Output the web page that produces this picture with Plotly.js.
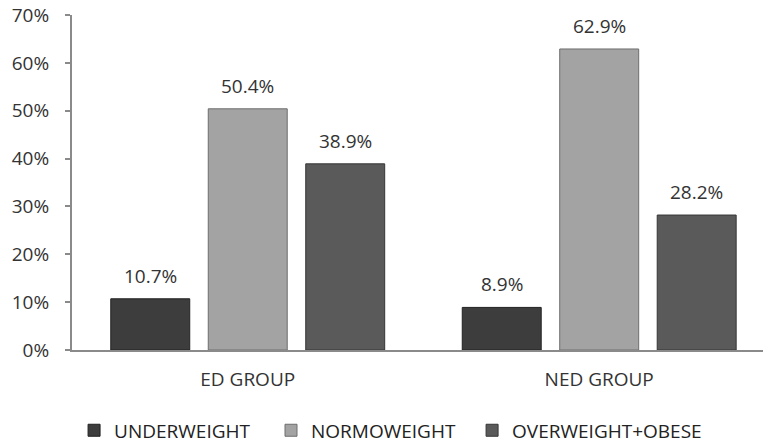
<!DOCTYPE html>
<html>
<head>
<meta charset="utf-8">
<script src="https://cdn.plot.ly/plotly-3.0.1.min.js"></script>
<style>html,body{margin:0;padding:0;background:#fff;}#chart{width:763px;height:445px;}</style>
</head>
<body>
<div id="chart"></div>
<script>
const groups = ['ED GROUP', 'NED GROUP'];
const seriesNames = ['UNDERWEIGHT', 'NORMOWEIGHT', 'OVERWEIGHT+OBESE'];
const underweight = [10.7, 8.9];
const normoweight = [50.4, 62.9];
const overweightObese = [38.9, 28.2];
const yTicks = [0, 10, 20, 30, 40, 50, 60, 70];
const yTickLabels = ['0%', '10%', '20%', '30%', '40%', '50%', '60%', '70%'];

const seriesValues = [underweight, normoweight, overweightObese];
const colors = ['#3d3d3d', '#a3a3a3', '#5a5a5a'];
const lineColors = ['#222222', '#6e6e6e', '#363636'];
const font = '"Open Sans", sans-serif';
const legendIds = ['legend', 'legend2', 'legend3'];
const legendX = [0.003, 0.288, 0.579];

const traces = seriesValues.map((vals, i) => ({
  type: 'bar',
  name: seriesNames[i],
  x: groups,
  y: vals,
  legend: legendIds[i],
  marker: {color: colors[i], line: {color: lineColors[i], width: 1}},
  hoverinfo: 'none'
}));

// value labels above each bar
const slotShift = [-97.5, 0, 97.5];
const annotations = [];
seriesValues.forEach((vals, i) => {
  vals.forEach((v, k) => {
    annotations.push({
      x: groups[k], y: v, xref: 'x', yref: 'y',
      text: v.toFixed(1) + '%',
      showarrow: false, xshift: slotShift[i], yanchor: 'bottom', yshift: 8,
      font: {family: font, size: 19, color: '#333'}
    });
  });
});

const layout = {
  width: 763, height: 445,
  margin: {l: 72, r: 0, t: 15, b: 95, autoexpand: false},
  paper_bgcolor: '#fff', plot_bgcolor: '#fff',
  barmode: 'group', bargap: 0.168, bargroupgap: 0.19,
  showlegend: true,
  xaxis: {
    type: 'category', range: [-0.5, 1.466], fixedrange: true, automargin: false,
    showline: true, linecolor: '#8a8a8a', linewidth: 2,
    ticks: '', showgrid: false, zeroline: false, ticklabelstandoff: 11,
    tickfont: {family: font, size: 19, color: '#333'}
  },
  yaxis: {
    range: [0, 70], tickvals: yTicks, ticktext: yTickLabels, automargin: false,
    showline: true, linecolor: '#8a8a8a', linewidth: 2,
    ticks: 'outside', ticklen: 5, tickwidth: 2, tickcolor: '#8a8a8a',
    showgrid: false, zeroline: false, ticklabelstandoff: 12,
    tickfont: {family: font, size: 19, color: '#333'}
  },
  annotations: annotations
};
legendIds.forEach((id, i) => {
  layout[id] = {
    orientation: 'h', x: legendX[i], xanchor: 'left', y: -0.24, yanchor: 'middle',
    font: {family: font, size: 19, color: '#222'}, itemwidth: 30,
    bgcolor: 'rgba(0,0,0,0)'
  };
});

Plotly.newPlot('chart', traces, layout, {displayModeBar: false, staticPlot: true});
</script>
</body>
</html>
